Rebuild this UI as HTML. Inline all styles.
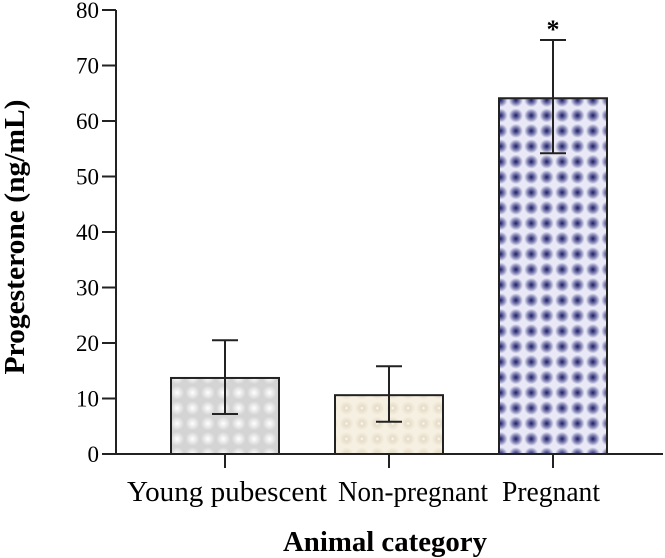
<!DOCTYPE html>
<html><head><meta charset="utf-8"><style>
body{margin:0;background:#fff}
svg{display:block;font-family:"Liberation Serif",serif}
</style></head><body>
<svg width="665" height="558" viewBox="0 0 665 558">
<defs>
<radialGradient id="g1"><stop offset="0" stop-color="#ffffff"/><stop offset="1" stop-color="#d4d4d4"/></radialGradient>
<pattern id="p1" width="15.4" height="15.4" patternUnits="userSpaceOnUse"><rect width="15.4" height="15.4" fill="#d4d4d4"/><circle cx="7.7" cy="7.7" r="7" fill="url(#g1)"/></pattern>
<radialGradient id="g2"><stop offset="0" stop-color="#ffffff"/><stop offset="0.3" stop-color="#e6dcc8"/><stop offset="1" stop-color="#f6f0e2"/></radialGradient>
<pattern id="p2" width="15.4" height="15.4" patternUnits="userSpaceOnUse"><rect width="15.4" height="15.4" fill="#f6f0e2"/><circle cx="7.7" cy="7.7" r="7" fill="url(#g2)"/></pattern>
<radialGradient id="g3"><stop offset="0" stop-color="#1c1c5e"/><stop offset="0.5" stop-color="#7a7ab0"/><stop offset="1" stop-color="#e8e8f6"/></radialGradient>
<pattern id="p3" width="15.4" height="15.4" patternUnits="userSpaceOnUse"><rect width="15.4" height="15.4" fill="#e8e8f6"/><circle cx="7.7" cy="7.7" r="7" fill="url(#g3)"/></pattern>
</defs>
<g id="plot"></g>
<text x="-237" y="24" transform="rotate(-90)" text-anchor="middle" font-size="28" font-weight="bold" textLength="275" lengthAdjust="spacingAndGlyphs">Progesterone (ng/mL)</text>
<text x="385" y="551" text-anchor="middle" font-size="29" font-weight="bold" textLength="204" lengthAdjust="spacingAndGlyphs">Animal category</text>
</svg>
<script>
const categories=["Young pubescent","Non-pregnant","Pregnant"];
const means=[13.7,10.6,64.1];
const errHigh=[20.5,15.8,74.6];
const errLow=[7.2,5.8,54.2];
const sigLabels=["","","*"];
const yTicks=[0,10,20,30,40,50,60,70,80];
const fills=["url(#p1)","url(#p2)","url(#p3)"];
const labelShift=[2,24,-2];
const labelLen=[200,150,98];
const NS="http://www.w3.org/2000/svg";
const g=document.getElementById('plot');
const x0=116,y0=454,yTop=10,yMax=80;
const y=v=>y0-(v/yMax)*(y0-yTop);
const xc=i=>225+i*164;
const bw=108;
function el(t,a){const e=document.createElementNS(NS,t);for(const k in a)e.setAttribute(k,a[k]);g.appendChild(e);return e;}
yTicks.forEach(t=>{
 const l=el('line',{x1:102,x2:x0,y1:y(t),y2:y(t),stroke:'#222','stroke-width':2});
 
 
 const tx=el('text',{x:99,y:y(t)+8,'text-anchor':'end','font-size':23});
 tx.textContent=t;
 
 
});
categories.forEach((c,i)=>{
 const r=el('rect',{x:xc(i)-bw/2,y:y(means[i]),width:bw,height:y0-y(means[i]),fill:fills[i],stroke:'#222','stroke-width':2});
 
 
 const e=el('path',{d:`M${xc(i)},${y(errLow[i])}V${y(errHigh[i])}M${xc(i)-13},${y(errHigh[i])}H${xc(i)+13}M${xc(i)-13},${y(errLow[i])}H${xc(i)+13}`,stroke:'#222','stroke-width':2,fill:'none'});
 
 
 const tk=el('line',{x1:xc(i),x2:xc(i),y1:y0,y2:468,stroke:'#222','stroke-width':2});
 
 
 const tx=el('text',{x:xc(i)+labelShift[i],y:501,'text-anchor':'middle','font-size':28,textLength:labelLen[i],lengthAdjust:'spacingAndGlyphs'});
 tx.textContent=c;
 
 
 if(sigLabels[i]){const s=el('text',{x:xc(i),y:y(errHigh[i])-2,'text-anchor':'middle','font-size':26,'font-weight':'bold'});s.textContent=sigLabels[i];
 
 }
});
const ya=el('line',{x1:x0,x2:x0,y1:yTop,y2:y0,stroke:'#222','stroke-width':2});


const xa=el('line',{x1:102,x2:663,y1:y0,y2:y0,stroke:'#222','stroke-width':2});


</script>
</body></html>
